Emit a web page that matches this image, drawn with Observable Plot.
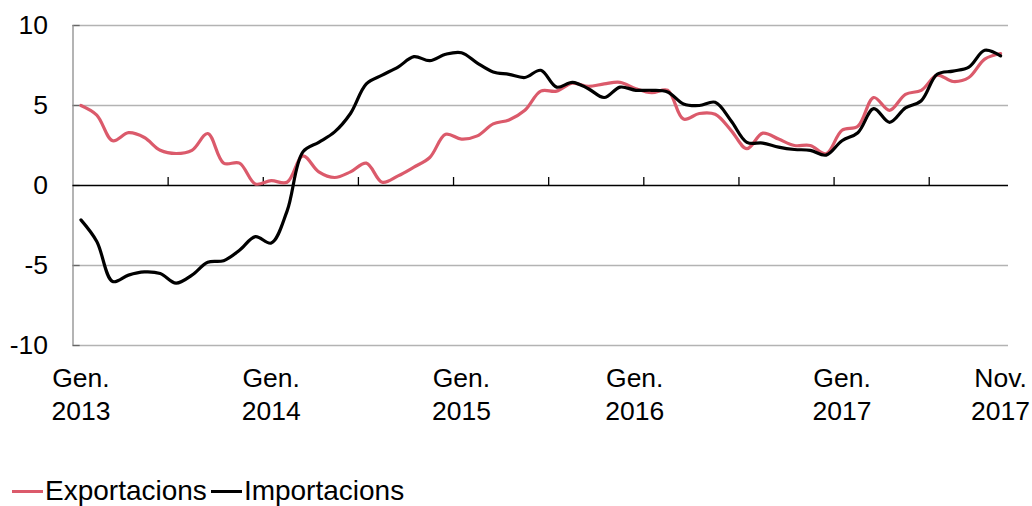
<!DOCTYPE html>
<html>
<head>
<meta charset="utf-8">
<script src="https://cdn.jsdelivr.net/npm/d3@7"></script>
<script src="https://cdn.jsdelivr.net/npm/@observablehq/plot@0.6"></script>
<style>
  html, body { margin: 0; padding: 0; background: #fff; }
  body { width: 1032px; height: 506px; overflow: hidden; font-family: "Liberation Sans", Arial, sans-serif; }
  #legend { position: absolute; left: 12px; top: 475px; font-size: 28px; color: #000; display: flex; align-items: center; white-space: nowrap; }
  #legend .item { display: flex; align-items: center; margin-right: 4px; }
  #legend .sw { width: 31px; height: 3px; margin-right: 2px; }
</style>
</head>
<body>
<div id="chart"></div>
<div id="legend"></div>
<script>
// Months: Jan 2013 .. Nov 2017 (59 monthly points)
const months = d3.utcMonth.range(new Date(Date.UTC(2013, 0, 1)), new Date(Date.UTC(2017, 11, 1)));

const exportacions = [
  5.0, 4.4, 2.8, 3.3, 3.0, 2.2, 2.0, 2.2, 3.25, 1.4, 1.4, 0.1,
  0.3, 0.2, 1.85, 0.85, 0.5, 0.85, 1.4, 0.2, 0.6, 1.15, 1.75, 3.2,
  2.9, 3.1, 3.85, 4.1, 4.7, 5.9, 5.9, 6.4, 6.2, 6.35, 6.45, 6.05,
  5.8, 5.95, 4.15, 4.5, 4.45, 3.45, 2.3, 3.27, 2.9, 2.5, 2.5, 1.98,
  3.45, 3.7, 5.5, 4.7, 5.7, 5.95, 6.9, 6.5, 6.75, 7.9, 8.25
];

const importacions = [
  -2.15, -3.5, -6.0, -5.6, -5.4, -5.5, -6.1, -5.6, -4.8, -4.7, -4.05, -3.2,
  -3.6, -1.6, 2.1, 2.7, 3.35, 4.5, 6.35, 6.9, 7.4, 8.05, 7.8, 8.2,
  8.3, 7.65, 7.1, 6.95, 6.75, 7.2, 6.15, 6.45, 6.05, 5.5, 6.15, 5.95,
  5.95, 5.85, 5.1, 5.0, 5.2, 4.05, 2.7, 2.65, 2.4, 2.25, 2.2, 1.9,
  2.8, 3.3, 4.8, 3.95, 4.85, 5.3, 6.95, 7.15, 7.4, 8.45, 8.1
];

const seriesNames = ["Exportacions", "Importacions"];
const seriesColors = ["#DB5A6B", "#000000"];

const yTicks = [-10, -5, 0, 5, 10];
const xTickLabels = ["Gen.\n2013", "Gen.\n2014", "Gen.\n2015", "Gen.\n2016", "Gen.\n2017", "Nov.\n2017"];
const xTickMonths = [0, 12, 24, 36, 48, 58];
const tickMarkMonths = [5.5, 11.5, 17.5, 23.5, 29.5, 35.5, 41.5, 47.5, 53.5];

const rows = [];
months.forEach((m, i) => {
  rows.push({ i, month: m, serie: seriesNames[0], value: exportacions[i] });
  rows.push({ i, month: m, serie: seriesNames[1], value: importacions[i] });
});
const labelRows = xTickLabels.map((t, k) => ({ i: xTickMonths[k], label: t }));

const chart = Plot.plot({
  width: 1032,
  height: 460,
  marginLeft: 72.5,
  marginRight: 24,
  marginTop: 25,
  marginBottom: 115,
  style: { fontFamily: "'Liberation Sans', Arial, sans-serif", fontSize: "26.5px", color: "#000", background: "#fff" },
  x: { domain: [-0.5, months.length - 0.5], axis: null },
  y: { domain: [-10, 10], ticks: yTicks, tickSize: 0, tickPadding: 25, tickFormat: d => d, label: null },
  color: { domain: seriesNames, range: seriesColors },
  marks: [
    Plot.ruleY(yTicks.filter(d => d !== 0), { stroke: "#b3b3b3", strokeWidth: 1.3, strokeOpacity: 1 }),
    Plot.ruleY(yTicks, { x1: -0.5, x2: -0.05, stroke: "#666", strokeWidth: 1.3 }),
    Plot.ruleX([-0.5], { y1: -10, y2: 10, stroke: "#8c8c8c", strokeWidth: 1.3 }),
    Plot.ruleY([0], { stroke: "#000", strokeWidth: 1.3 }),
    Plot.ruleX(tickMarkMonths, { y1: 0, y2: 0.5, stroke: "#000", strokeWidth: 1.3 }),
    Plot.line(rows, { x: "i", y: "value", z: "serie", stroke: "serie", strokeWidth: 3.2, curve: "catmull-rom" }),
    Plot.text(labelRows.filter(d => d.i !== 36), { x: "i", y: -10, text: "label", dy: 19, lineAnchor: "top", lineHeight: 1.22, fontSize: 26.5, fill: "#000" }),
    Plot.text(labelRows.filter(d => d.i === 36), { x: "i", y: -10, text: "label", dy: 19, dx: -17, lineAnchor: "top", lineHeight: 1.22, fontSize: 26.5, fill: "#000" })
  ]
});
document.getElementById("chart").appendChild(chart);

const legend = document.getElementById("legend");
seriesNames.forEach((name, k) => {
  const item = document.createElement("div");
  item.className = "item";
  const sw = document.createElement("span");
  sw.className = "sw";
  sw.style.background = seriesColors[k];
  const tx = document.createElement("span");
  tx.textContent = name;
  item.appendChild(sw);
  item.appendChild(tx);
  legend.appendChild(item);
});
</script>
</body>
</html>
